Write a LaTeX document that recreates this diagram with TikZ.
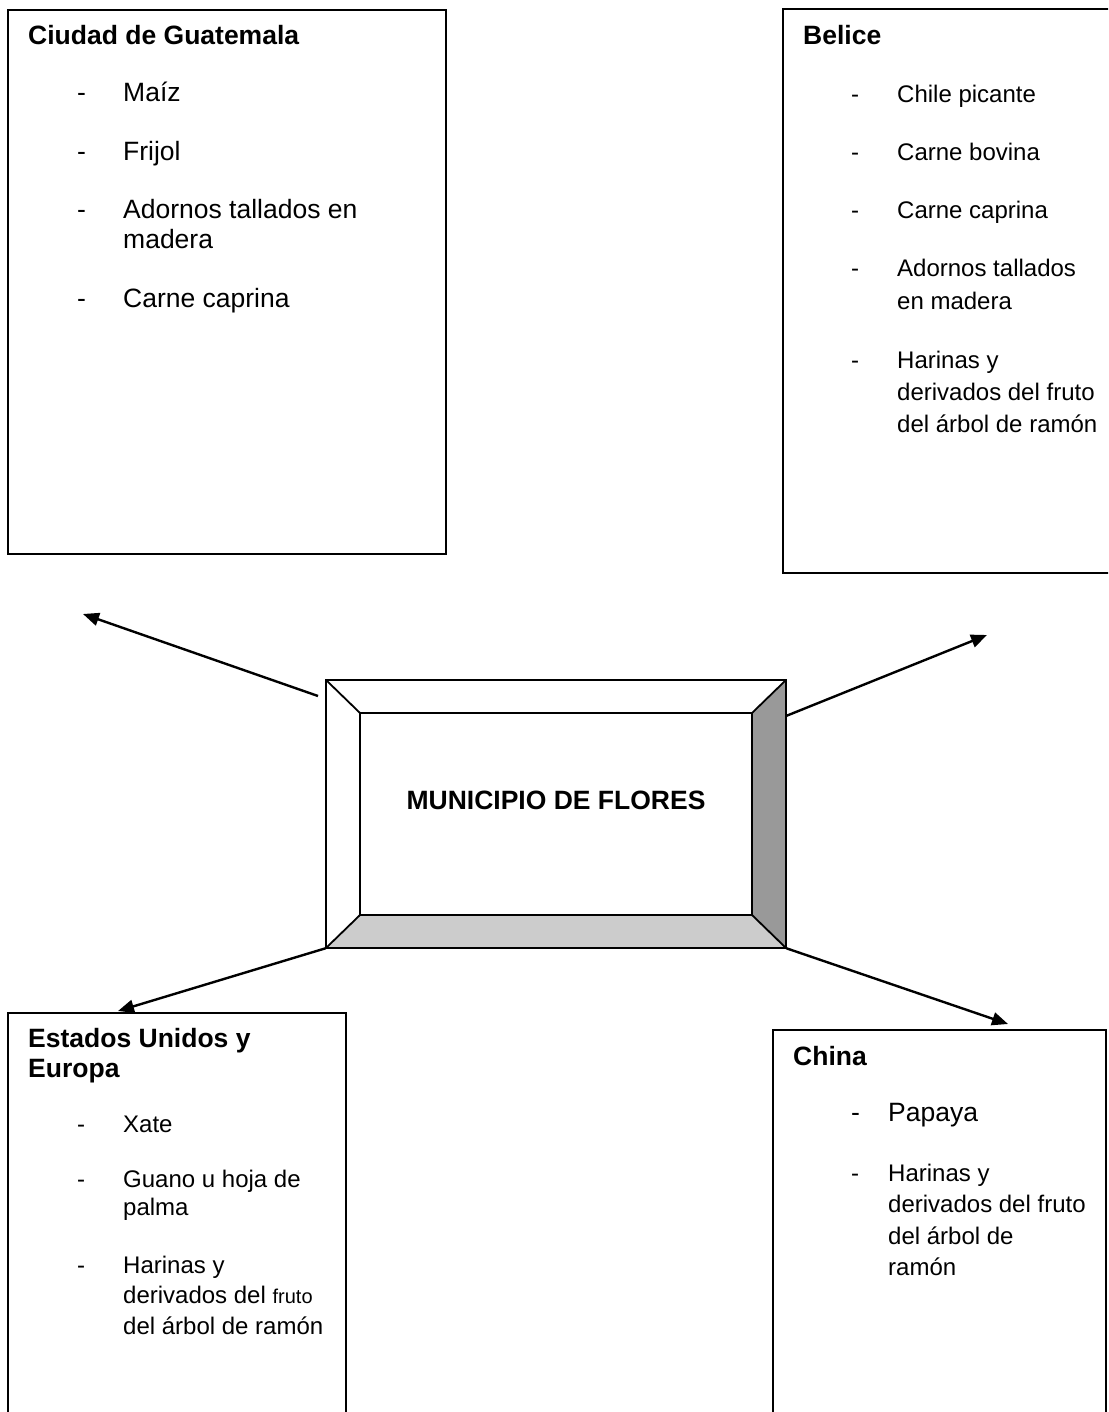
\documentclass[tikz,border=0pt]{standalone}
\usepackage{fontspec}
\setmainfont{Liberation Sans}
\usetikzlibrary{arrows.meta}
\definecolor{bevelR}{HTML}{999999}
\definecolor{bevelB}{HTML}{CCCCCC}
\begin{document}
\begin{tikzpicture}[x=1pt,y=-1pt,
  box/.style={draw=black, line width=1.8pt, fill=white, rectangle, inner sep=0pt, anchor=north west},
  ttl/.style={anchor=base west, inner sep=0pt, font=\fontsize{26.5}{30}\selectfont\bfseries},
  itmL/.style={anchor=base west, inner sep=0pt, font=\fontsize{26.5}{30}\selectfont},
  itm/.style={anchor=base west, inner sep=0pt, font=\fontsize{24}{30}\selectfont},
  arr/.style={-{Triangle[length=16pt,width=13pt]}, line width=2.4pt},
  bev/.style={draw=black, line width=1.8pt, line join=miter}]
\useasboundingbox (0,0) rectangle (1108,1412);
\clip (0,0) rectangle (1108,1412);
\fill[white] (0,0) rectangle (1108,1412);

% ---------- boxes ----------
\node[box, minimum width=438pt, minimum height=544pt] (cg) at (7,9) {};
\node[box, minimum width=400pt, minimum height=564pt] (bz) at (782,8) {};
\node[box, minimum width=338pt, minimum height=500pt] (eu) at (7,1012) {};
\node[box, minimum width=333pt, minimum height=500pt] (cn) at (772,1029) {};

% ---------- Ciudad de Guatemala ----------
\node[ttl] (cgT) at (28,45) {Ciudad de Guatemala};
\node[itmL] (cgd1) at (77,102) {-};
\node[itmL] (cgi1) at (123,102) {Maíz};
\node[itmL] (cgd2) at (77,161) {-};
\node[itmL] (cgi2) at (123,161) {Frijol};
\node[itmL] (cgd3) at (77,219) {-};
\node[itmL] (cgi3a) at (123,219) {Adornos tallados en};
\node[itmL] (cgi3b) at (123,249) {madera};
\node[itmL] (cgd4) at (77,308) {-};
\node[itmL] (cgi4) at (123,308) {Carne caprina};

% ---------- Belice ----------
\node[ttl] (bzT) at (803,45) {Belice};
\node[itm] (bzd1) at (851,103) {-};
\node[itm] (bzi1) at (897,103) {Chile picante};
\node[itm] (bzd2) at (851,161) {-};
\node[itm] (bzi2) at (897,161) {Carne bovina};
\node[itm] (bzd3) at (851,219) {-};
\node[itm] (bzi3) at (897,219) {Carne caprina};
\node[itm] (bzd4) at (851,277) {-};
\node[itm] (bzi4a) at (897,277) {Adornos tallados};
\node[itm] (bzi4b) at (897,309) {en madera};
\node[itm] (bzd5) at (851,368) {-};
\node[itm] (bzi5a) at (897,368) {Harinas y};
\node[itm] (bzi5b) at (897,400) {derivados del fruto};
\node[itm] (bzi5c) at (897,432) {del árbol de ramón};

% ---------- Estados Unidos y Europa ----------
\node[ttl] (euT1) at (28,1047) {Estados Unidos y};
\node[ttl] (euT2) at (28,1077) {Europa};
\node[itm] (eud1) at (77,1132) {-};
\node[itm] (eui1) at (123,1132) {Xate};
\node[itm] (eud2) at (77,1187) {-};
\node[itm] (eui2a) at (123,1187) {Guano u hoja de};
\node[itm] (eui2b) at (123,1215) {palma};
\node[itm] (eud3) at (77,1273) {-};
\node[itm] (eui3a) at (123,1273) {Harinas y};
\node[itm] (eui3b) at (123,1303) {derivados del {\fontsize{20}{24}\selectfont fruto}};
\node[itm] (eui3c) at (123,1334) {del árbol de ramón};

% ---------- China ----------
\node[ttl] (cnT) at (793,1065) {China};
\node[itmL] (cnd1) at (851,1121) {-};
\node[itmL] (cni1) at (888,1121) {Papaya};
\node[itm] (cnd2) at (851,1181) {-};
\node[itm] (cni2a) at (888,1181) {Harinas y};
\node[itm] (cni2b) at (888,1212) {derivados del fruto};
\node[itm] (cni2c) at (888,1244) {del árbol de};
\node[itm] (cni2d) at (888,1275) {ramón};

% ---------- central bevel box ----------
\node[draw=none, minimum width=460pt, minimum height=268pt, inner sep=0pt] (outer) at (556,814) {};
\node[draw=none, minimum width=392pt, minimum height=202pt, inner sep=0pt] (inner) at (556,814) {};
\fill[white] (outer.north west) -- (outer.north east) -- (inner.north east) -- (inner.north west) -- cycle;
\fill[white] (outer.north west) -- (inner.north west) -- (inner.south west) -- (outer.south west) -- cycle;
\fill[bevelR] (outer.north east) -- (outer.south east) -- (inner.south east) -- (inner.north east) -- cycle;
\fill[bevelB] (outer.south west) -- (outer.south east) -- (inner.south east) -- (inner.south west) -- cycle;
\draw[bev] (outer.north west) rectangle (outer.south east);
\draw[bev] (inner.north west) rectangle (inner.south east);
\draw[bev] (outer.north west) -- (inner.north west);
\draw[bev] (outer.north east) -- (inner.north east);
\draw[bev] (outer.south west) -- (inner.south west);
\draw[bev] (outer.south east) -- (inner.south east);
\node[ttl, anchor=base] (munT) at (556,809) {MUNICIPIO DE FLORES};

% ---------- arrows ----------
\coordinate (tUL) at (318,696);
\coordinate (tUR) at (786,716);
\coordinate (hUL) at (83,614);
\coordinate (hUR) at (987,635);
\coordinate (hLL) at (118,1011);
\coordinate (hLR) at (1008,1024);
\draw[arr] (tUL) -- (hUL);
\draw[arr] (tUR) -- (hUR);
\draw[arr] (outer.south west) -- (hLL);
\draw[arr] (outer.south east) -- (hLR);
\end{tikzpicture}
\end{document}
